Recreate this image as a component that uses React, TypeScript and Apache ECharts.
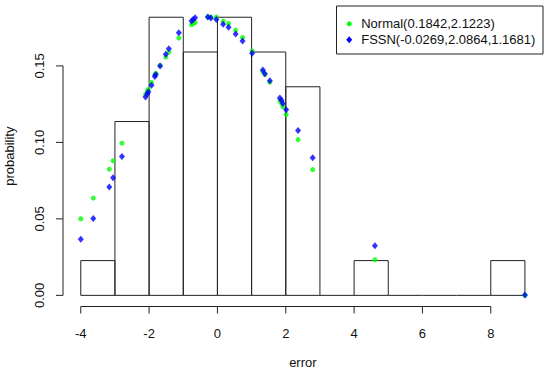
import React, { useEffect, useRef } from "react";
import * as echarts from "echarts";

// ---- data ----
const binEdges = [-4, -3, -2, -1, 0, 1, 2, 3, 4, 5, 6, 7, 8, 9];
const binCounts = [1, 5, 8, 7, 8, 7, 6, 0, 1, 0, 0, 0, 1];
const sampleSize = 44;

const pointX = [
  -4.0, -3.634, -3.165, -3.054, -2.794, -2.105, -2.053, -2.023, -1.93, -1.833, -1.804, -1.678,
  -1.511, -1.423, -1.13, -0.758, -0.712, -0.653, -0.281, -0.193, -0.032, 0.167, 0.325, 0.533,
  0.735, 1.016, 1.329, 1.388, 1.534, 1.827, 1.877, 1.915, 2.012, 2.36, 2.788, 4.609, 9.0,
];
const normalP = [
  0.0501, 0.0636, 0.0825, 0.088, 0.0995, 0.1314, 0.1337, 0.1346, 0.1392, 0.1441, 0.1451, 0.1503,
  0.1558, 0.159, 0.1682, 0.1769, 0.1778, 0.1784, 0.182, 0.1819, 0.1819, 0.1792, 0.1778, 0.1734,
  0.1686, 0.1598, 0.1464, 0.1444, 0.1394, 0.1271, 0.1255, 0.1232, 0.1183, 0.1018, 0.0822, 0.0233,
  0.0001,
];
const fssnP = [
  0.0367, 0.0502, 0.0708, 0.0769, 0.0907, 0.1296, 0.1318, 0.1329, 0.1373, 0.1431, 0.1444, 0.1499,
  0.1577, 0.1612, 0.1717, 0.1793, 0.1804, 0.1815, 0.1819, 0.1814, 0.1804, 0.1773, 0.1753, 0.1709,
  0.1663, 0.1582, 0.1474, 0.1449, 0.1403, 0.1291, 0.1275, 0.1255, 0.1214, 0.1077, 0.0899, 0.0325,
  0.0003,
];

const xTicks = [-4, -2, 0, 2, 4, 6, 8];
const yTicks = [0, 0.05, 0.1, 0.15];
const normalLabel = "Normal(0.1842,2.1223)";
const fssnLabel = "FSSN(-0.0269,2.0864,1.1681)";

// axis ranges (R style: 4% extension)
const X_MIN = -4.52;
const X_MAX = 9.52;
const Y_MIN = -0.00728;
const Y_MAX = 0.1893;

const FONT = '"Liberation Sans", Arial, sans-serif';
const INK = "#222";
const TICK_LEN = 7;

export default function App() {
  const ref = useRef<HTMLDivElement>(null);

  useEffect(() => {
    if (!ref.current) return;
    const chart = echarts.init(ref.current, undefined, { renderer: "svg" });

    const bins = binCounts.map((c, i) => {
      const w = binEdges[i + 1] - binEdges[i];
      return [binEdges[i], binEdges[i + 1], c / (sampleSize * w)];
    });

    const option: any = {
      animation: false,
      backgroundColor: "#fff",
      grid: {
        left: 63,
        right: 7.3,
        top: 5.8,
        bottom: 66.5,
        containLabel: false,
        outerBoundsMode: "none",
      },
      xAxis: {
        type: "value",
        min: X_MIN,
        max: X_MAX,
        name: "error",
        nameLocation: "middle",
        nameGap: 49,
        nameTextStyle: { fontFamily: FONT, fontSize: 13, color: "#111" },
        axisLine: { show: false },
        splitLine: { show: false },
        axisTick: { show: false },
        axisLabel: {
          customValues: xTicks,
          margin: 20,
          fontFamily: FONT,
          fontSize: 13,
          color: "#111",
        },
      },
      yAxis: {
        type: "value",
        min: Y_MIN,
        max: Y_MAX,
        name: "probability",
        nameLocation: "middle",
        nameGap: 47,
        nameTextStyle: { fontFamily: FONT, fontSize: 13, color: "#111" },
        axisLine: { show: false },
        splitLine: { show: false },
        axisTick: { show: false },
        axisLabel: {
          customValues: yTicks,
          rotate: 90,
          margin: 17,
          fontFamily: FONT,
          fontSize: 13,
          color: "#111",
          formatter: (v: number) => v.toFixed(2),
        },
      },
      series: [
        {
          type: "custom",
          name: "hist",
          data: bins,
          encode: { x: [0, 1], y: 2 },
          clip: false,
          silent: true,
          renderItem: (params: any, api: any) => {
            const x0 = api.value(0);
            const x1 = api.value(1);
            const h = api.value(2);
            const p0 = api.coord([x0, 0]);
            const p1 = api.coord([x1, h]);
            if (h > 0) {
              return {
                type: "rect",
                shape: { x: p0[0], y: p1[1], width: p1[0] - p0[0], height: p0[1] - p1[1] },
                style: { fill: "none", stroke: INK, lineWidth: 1 },
              };
            }
            return {
              type: "line",
              shape: { x1: p0[0], y1: p0[1], x2: p1[0], y2: p0[1] },
              style: { stroke: INK, lineWidth: 1 },
            };
          },
        },
        {
          type: "line",
          name: "xaxisline",
          data: [
            [xTicks[0], Y_MIN],
            [xTicks[xTicks.length - 1], Y_MIN],
          ],
          symbol: "none",
          clip: false,
          silent: true,
          lineStyle: { color: INK, width: 1 },
        },
        {
          type: "line",
          name: "yaxisline",
          data: [
            [X_MIN, yTicks[0]],
            [X_MIN, yTicks[yTicks.length - 1]],
          ],
          symbol: "none",
          clip: false,
          silent: true,
          lineStyle: { color: INK, width: 1 },
        },
        {
          type: "custom",
          name: "xticks",
          data: xTicks.map((v) => [v, Y_MIN]),
          encode: { x: 0, y: 1 },
          clip: false,
          silent: true,
          renderItem: (params: any, api: any) => {
            const p = api.coord([api.value(0), api.value(1)]);
            return {
              type: "line",
              shape: { x1: p[0], y1: p[1], x2: p[0], y2: p[1] + TICK_LEN },
              style: { stroke: INK, lineWidth: 1 },
            };
          },
        },
        {
          type: "custom",
          name: "yticks",
          data: yTicks.map((v) => [X_MIN, v]),
          encode: { x: 0, y: 1 },
          clip: false,
          silent: true,
          renderItem: (params: any, api: any) => {
            const p = api.coord([api.value(0), api.value(1)]);
            return {
              type: "line",
              shape: { x1: p[0], y1: p[1], x2: p[0] - TICK_LEN, y2: p[1] },
              style: { stroke: INK, lineWidth: 1 },
            };
          },
        },
        {
          type: "scatter",
          name: normalLabel,
          data: pointX.map((x, i) => [x, normalP[i]]),
          symbol: "circle",
          symbolSize: 5,
          clip: false,
          itemStyle: { color: "#00ff00" },
          z: 3,
        },
        {
          type: "scatter",
          name: fssnLabel,
          data: pointX.map((x, i) => [x, fssnP[i]]),
          symbol: "diamond",
          symbolSize: [6, 7],
          clip: false,
          itemStyle: { color: "#0000ff" },
          z: 4,
        },
      ],
      graphic: [
        {
          type: "group",
          left: 336,
          top: 5.5,
          z: 10,
          children: [
            {
              type: "rect",
              shape: { x: 0, y: 0, width: 206.5, height: 48 },
              style: { fill: "#fff", stroke: INK, lineWidth: 1 },
            },
            {
              type: "circle",
              shape: { cx: 12.7, cy: 17.8, r: 2.5 },
              style: { fill: "#00ff00" },
            },
            {
              type: "polygon",
              shape: {
                points: [
                  [12.7, 30.3],
                  [15.7, 33.8],
                  [12.7, 37.3],
                  [9.7, 33.8],
                ],
              },
              style: { fill: "#0000ff" },
            },
            {
              type: "text",
              x: 24.7,
              y: 17.8,
              style: {
                text: normalLabel,
                fontFamily: FONT,
                fontSize: 13,
                fill: "#111",
                verticalAlign: "middle",
                align: "left",
              },
            },
            {
              type: "text",
              x: 24.7,
              y: 33.8,
              style: {
                text: fssnLabel,
                fontFamily: FONT,
                fontSize: 13,
                fill: "#111",
                verticalAlign: "middle",
                align: "left",
              },
            },
          ],
        },
      ],
    };

    chart.setOption(option);
    return () => chart.dispose();
  }, []);

  return (
    <div
      ref={ref}
      style={{ position: "fixed", left: 0, top: 0, width: 550, height: 373, background: "#fff" }}
    />
  );
}
